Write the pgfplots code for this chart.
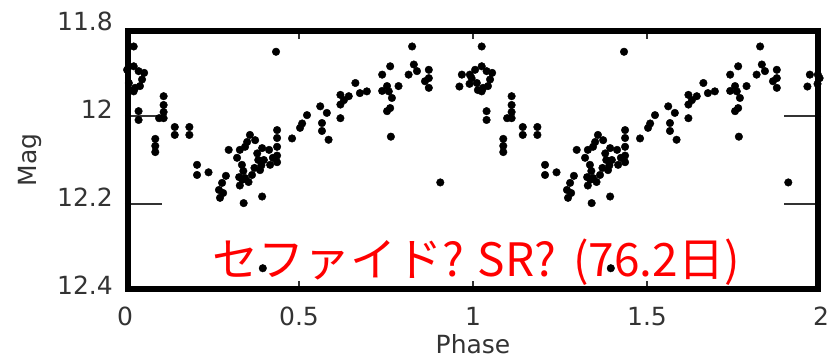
\documentclass[border=0pt]{standalone}
\usepackage{fontspec}
\setmainfont{DejaVu Sans}
\newfontfamily\jpfont{Noto Sans CJK JP}
\usepackage{pgfplots}
\usepackage{pgfplotstable}
\pgfplotsset{compat=1.18}

% folded light curve: phase, magnitude
\pgfplotstableread{
ph mag
0.025 11.842
0.968 11.906
0.996 11.914
0.025 11.887
0.039 11.898
0.049 11.917
0.029 11.936
0.011 11.925
0.043 11.932
0.025 11.944
0.961 11.933
0.991 11.906
0.006 11.895
0.055 11.902
0.014 11.941
0.990 11.927
0.111 11.955
0.111 11.975
0.111 11.991
0.111 12.005
0.098 12.005
0.039 11.989
0.039 12.009
0.143 12.025
0.143 12.043
0.185 12.025
0.185 12.043
0.087 12.052
0.087 12.068
0.087 12.082
0.207 12.111
0.207 12.134
0.240 12.128
0.270 12.168
0.279 12.152
0.290 12.136
0.282 12.175
0.273 12.186
0.298 12.077
0.330 12.077
0.336 12.111
0.345 12.141
0.365 12.134
0.388 12.123
0.399 12.100
0.394 12.073
0.374 12.055
0.351 12.059
0.359 12.043
0.322 12.095
0.328 12.139
0.340 12.125
0.380 12.085
0.392 12.112
0.355 12.150
0.330 12.158
0.372 12.118
0.345 12.070
0.383 12.100
0.337 12.145
0.437 12.032
0.437 12.050
0.437 12.070
0.437 12.090
0.437 12.105
0.414 12.077
0.417 12.111
0.425 12.095
0.341 12.198
0.394 12.183
0.480 12.051
0.509 12.017
0.503 12.027
0.523 11.998
0.561 11.978
0.580 11.993
0.566 12.016
0.566 12.034
0.585 12.054
0.619 11.952
0.619 11.974
0.619 12.005
0.643 11.955
0.662 11.925
0.675 11.948
0.695 11.944
0.629 11.964
0.739 11.906
0.739 11.943
0.753 11.989
0.764 12.047
0.762 11.887
0.825 11.842
0.830 11.883
0.815 11.906
0.839 11.898
0.873 11.895
0.873 11.914
0.873 11.936
0.862 11.921
0.786 11.932
0.758 11.944
0.767 11.959
0.753 11.932
0.762 11.982
0.906 12.151
0.434 11.854
0.396 12.346
}\lightcurve

\definecolor{tickgray}{HTML}{333333}

\begin{document}
\begin{tikzpicture}
\path[use as bounding box] (0,0) rectangle (839pt,358pt);
% annotation sits beneath the data points
\node[anchor=base west, inner sep=0pt, text=red, font=\jpfont\fontsize{46}{46}\selectfont]
  at (212pt,81pt) {セファイド?\hspace{14pt}SR?\hspace{17pt}(76.2日)};
\begin{axis}[
  at={(473pt,198pt)}, anchor=center,
  width=696pt, height=264pt, scale only axis,
  xmin=0, xmax=2, ymin=11.8, ymax=12.4,
  y dir=reverse,
  clip=false,
  axis line style={draw=none},
  major tick length=0pt,
  xtick={0,0.5,1,1.5,2},
  xticklabels={0,0.5,1,1.5,2},
  ytick={11.8,12,12.2,12.4},
  yticklabels={11.8,12,12.2,12.4},
  /pgf/number format/assume math mode=true,
  ticklabel style={font=\fontsize{25}{25}\selectfont, text=tickgray},
  xticklabel style={anchor=north, inner sep=0pt, yshift=-15pt},
  yticklabel style={anchor=east, inner sep=0pt, xshift=-12pt, yshift=7pt},
  xlabel={Phase},
  ylabel={Mag},
  label style={font=\fontsize{25}{25}\selectfont, text=tickgray, inner sep=0pt},
  xlabel style={at={(axis description cs:0.5,0)}, anchor=center, yshift=-52pt},
  ylabel style={at={(axis description cs:-0.1365,0.5)}, anchor=center},
]
\addplot[only marks, mark=*, mark size=3.8pt, mark options={fill=black, draw=black}]
  table[x=ph, y=mag] {\lightcurve};
\addplot[only marks, mark=*, mark size=3.8pt, mark options={fill=black, draw=black}]
  table[x expr=\thisrow{ph}+1, y=mag] {\lightcurve};

% inner tick marks
\draw[line width=1.6pt, tickgray] (axis cs:0.5,11.8) -- ([yshift=-11pt]axis cs:0.5,11.8);
\draw[line width=1.6pt, tickgray] (axis cs:1,11.8) -- ([yshift=-11pt]axis cs:1,11.8);
\draw[line width=1.6pt, tickgray] (axis cs:1.5,11.8) -- ([yshift=-11pt]axis cs:1.5,11.8);
\draw[line width=1.6pt, tickgray] (axis cs:0.5,12.4) -- ([yshift=11pt]axis cs:0.5,12.4);
\draw[line width=1.6pt, tickgray] (axis cs:1,12.4) -- ([yshift=11pt]axis cs:1,12.4);
\draw[line width=1.6pt, tickgray] (axis cs:1.5,12.4) -- ([yshift=11pt]axis cs:1.5,12.4);
\draw[line width=1.6pt, tickgray] (axis cs:0,12) -- ([xshift=37pt]axis cs:0,12);
\draw[line width=1.6pt, tickgray] (axis cs:0,12.2) -- ([xshift=37pt]axis cs:0,12.2);
\draw[line width=1.6pt, tickgray] (axis cs:2,12) -- ([xshift=-37pt]axis cs:2,12);
\draw[line width=1.6pt, tickgray] (axis cs:2,12.2) -- ([xshift=-37pt]axis cs:2,12.2);
% heavy frame
\draw[line width=6pt, black]
  ([shift={(3pt,3pt)}]axis description cs:0,0) rectangle
  ([shift={(-3pt,-3pt)}]axis description cs:1,1);
\end{axis}
\end{tikzpicture}
\end{document}
